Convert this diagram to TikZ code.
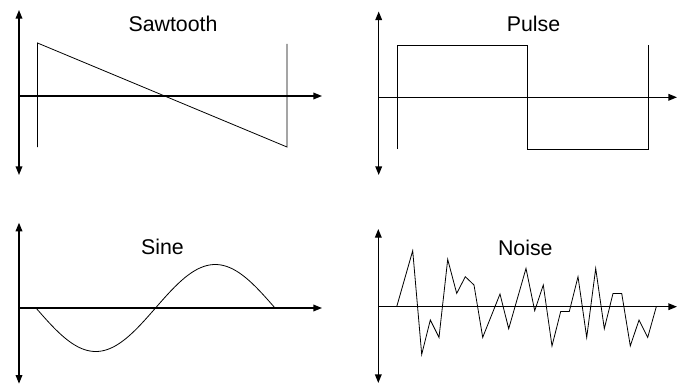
\documentclass[tikz,border=0pt]{standalone}
\usepackage{fontspec}
\setmainfont{Liberation Sans}
\usepackage{tikz}
\usetikzlibrary{
  arrows.meta,
  positioning
}

\begin{document}
\begin{tikzpicture}[x=0.75pt, y=-0.75pt,
    axisline/.style={line width=1pt, {Triangle[length=6.5pt,width=5pt]}-{Triangle[length=6.5pt,width=5pt]}},
    xaxisline/.style={line width=1pt, -{Triangle[length=6.5pt,width=5pt]}},
    wave/.style={line width=0.6pt, line join=miter},
    wavetitle/.style={anchor=base, inner sep=0pt, font=\fontsize{16}{19}\selectfont}
  ]
    \useasboundingbox (0,0) rectangle (677,385);

    % sawtooth
    \draw[axisline] (19,10) -- (19,175);
    \draw[xaxisline] (19,96) -- (322,96);
    \draw[wave] (37.5,147) -- (37.5,43) -- (287,147) -- (287,44);
    \node[wavetitle] (sawtitle) at (173,31.7) {Sawtooth};

    % pulse
    \draw[axisline] (378.7,11.5) -- (378.7,175);
    \draw[xaxisline] (378.7,97.3) -- (677,97.3);
    \draw[wave] (397.3,149) -- (397.3,45) -- (527.7,45) -- (527.7,149) -- (648,149) -- (648,45);
    \node[wavetitle] (pulsetitle) at (533.5,31.7) {Pulse};

    % sine
    \draw[axisline] (19,222.7) -- (19,383.7);
    \draw[xaxisline] (19,308) -- (322,308);
    \draw[wave] plot[domain=36:275, samples=120, smooth] (\x, {308+43.5*sin(((\x-36)/239)*360)});
    \node[wavetitle] (sinetitle) at (162.5,254.7) {Sine};

    % noise
    \draw[axisline] (378.3,229) -- (378.3,383);
    \draw[xaxisline] (378.3,306.7) -- (677,306.7);
    \draw[wave] (396.7,306.7)
      \foreach \px/\py in {412.7/56, 421.7/-47.7, 430.3/-13.3, 439/-30.7, 447.7/47.3,
                           456.7/13.3, 465.3/30, 474/21.7, 482.7/-30.7, 500/12.7,
                           508.7/-22, 526/38.3, 534.7/-4, 543.3/21.7, 552/-39.3,
                           560.7/-4.7, 569.3/-4.7, 578/30, 586.7/-30.7, 595.7/38.3,
                           604.3/-22, 613/13.3, 621.7/13.3, 630.3/-39.3, 639/-13.3,
                           647.7/-30.7, 656.3/0} { -- (\px,{306.7-\py}) };
    \node[wavetitle] (noisetitle) at (525.3,255) {Noise};
\end{tikzpicture}
\end{document}
